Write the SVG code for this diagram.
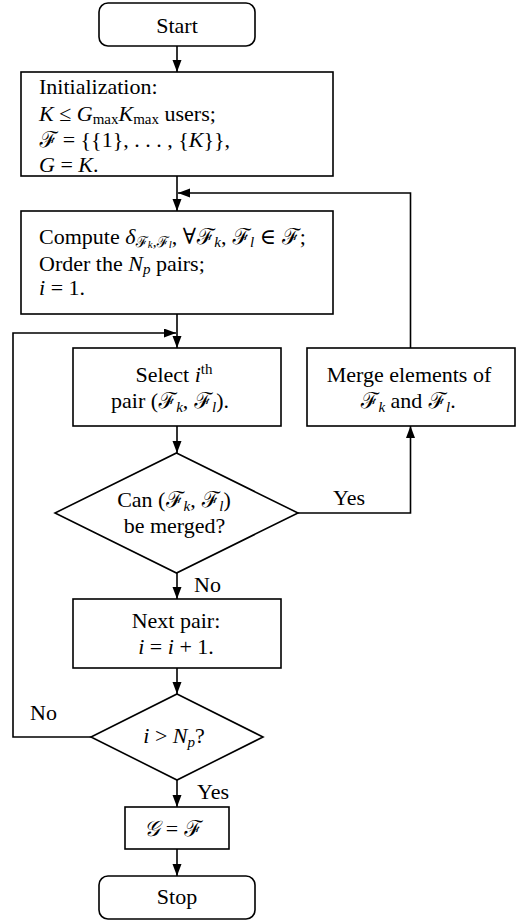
<svg xmlns="http://www.w3.org/2000/svg" width="521" height="921" viewBox="0 0 521 921">
<style>
  .box { fill: #fff; stroke: #000; stroke-width: 1.6; }
  .edge { fill: none; stroke: #000; stroke-width: 1.6; }
  text { font-family: "Liberation Serif", "DejaVu Serif", serif; font-size: 22px; fill: #000; }
  .c { text-anchor: middle; }
  .it { font-style: italic; }
  .sub { font-size: 15px; }
  .sub2 { font-size: 11px; font-style: italic; }
  .scr { font-family: "DejaVu Serif", "Noto Sans", serif; font-style: italic; }
</style>
<defs>
  <marker id="arr" markerUnits="userSpaceOnUse" markerWidth="12" markerHeight="10" refX="12" refY="4.5" orient="auto">
    <path d="M0,0 L12,4.5 L0,9 z" fill="#000"/>
  </marker>
</defs>

<g id="connectors">
  <path class="edge" d="M177,46 V72" marker-end="url(#arr)"/>
  <path class="edge" d="M177,176 V211" marker-end="url(#arr)"/>
  <path class="edge" d="M410.5,348 V193 H178" marker-end="url(#arr)"/>
  <path class="edge" d="M177,314 V348" marker-end="url(#arr)"/>
  <path class="edge" d="M91,737 H13 V333 H176" marker-end="url(#arr)"/>
  <path class="edge" d="M177,426 V453" marker-end="url(#arr)"/>
  <path class="edge" d="M298,513 H410.5 V426" marker-end="url(#arr)"/>
  <path class="edge" d="M177,573 V599" marker-end="url(#arr)"/>
  <path class="edge" d="M177,668 V694" marker-end="url(#arr)"/>
  <path class="edge" d="M177,780 V807" marker-end="url(#arr)"/>
  <path class="edge" d="M177,849 V876" marker-end="url(#arr)"/>
  <text x="333" y="505">Yes</text>
  <text x="194" y="592">No</text>
  <text x="30" y="720">No</text>
  <text x="197" y="799">Yes</text>
</g>

<g id="start">
  <rect class="box" x="99" y="3" width="156" height="43" rx="9"/>
  <text class="c" x="177" y="33">Start</text>
</g>

<g id="init">
  <rect class="box" x="21" y="72" width="312" height="104"/>
  <text x="39" y="94">Initialization:</text>
  <text x="39" y="121"><tspan class="it">K</tspan> ≤ <tspan class="it">G</tspan><tspan class="sub" dy="3">max</tspan><tspan class="it" dy="-3">K</tspan><tspan class="sub" dy="3">max</tspan><tspan dy="-3"> users;</tspan></text>
  <text x="39" y="147"><tspan class="scr">ℱ</tspan> = {{1}, . . . , {<tspan class="it">K</tspan>}},</text>
  <text x="39" y="172"><tspan class="it">G</tspan> = <tspan class="it">K</tspan>.</text>
</g>

<g id="compute">
  <rect class="box" x="21" y="211" width="312" height="103"/>
  <text x="39" y="244">Compute <tspan class="it">δ</tspan><tspan class="sub scr" dy="3">ℱ</tspan><tspan class="sub2" dy="1">k</tspan><tspan class="sub" dy="-1">,</tspan><tspan class="sub scr">ℱ</tspan><tspan class="sub2" dy="1">l</tspan><tspan dy="-4">, ∀</tspan><tspan class="scr">ℱ</tspan><tspan class="sub it" dy="3">k</tspan><tspan dy="-3">, </tspan><tspan class="scr">ℱ</tspan><tspan class="sub it" dy="3">l</tspan><tspan dy="-3"> ∈ </tspan><tspan class="scr">ℱ</tspan>;</text>
  <text x="39" y="271">Order the <tspan class="it">N</tspan><tspan class="sub it" dy="3">p</tspan><tspan dy="-3"> pairs;</tspan></text>
  <text x="39" y="295"><tspan class="it">i</tspan> = 1.</text>
</g>

<g id="select">
  <rect class="box" x="73" y="348" width="208" height="78"/>
  <text class="c" x="174" y="382">Select <tspan class="it">i</tspan><tspan class="sub" dy="-8">th</tspan></text>
  <text class="c" x="170" y="408">pair (<tspan class="scr">ℱ</tspan><tspan class="sub it" dy="4">k</tspan><tspan dy="-4">, </tspan><tspan class="scr">ℱ</tspan><tspan class="sub it" dy="4">l</tspan><tspan dy="-4">).</tspan></text>
</g>

<g id="merge">
  <rect class="box" x="307" y="348" width="208" height="78"/>
  <text class="c" x="409" y="382">Merge elements of</text>
  <text class="c" x="408" y="408"><tspan class="scr">ℱ</tspan><tspan class="sub it" dy="4">k</tspan><tspan dy="-4"> and </tspan><tspan class="scr">ℱ</tspan><tspan class="sub it" dy="4">l</tspan><tspan dy="-4">.</tspan></text>
</g>

<g id="canmerge">
  <polygon class="box" points="176.5,453 298,513 176.5,573 55,513"/>
  <text class="c" x="174" y="507">Can (<tspan class="scr">ℱ</tspan><tspan class="sub it" dy="4">k</tspan><tspan dy="-4">, </tspan><tspan class="scr">ℱ</tspan><tspan class="sub it" dy="4">l</tspan><tspan dy="-4">)</tspan></text>
  <text class="c" x="174.5" y="533">be merged?</text>
</g>

<g id="next">
  <rect class="box" x="73" y="599" width="208" height="69"/>
  <text class="c" x="176" y="628">Next pair:</text>
  <text class="c" x="176" y="654"><tspan class="it">i</tspan> = <tspan class="it">i</tspan> + 1.</text>
</g>

<g id="check">
  <polygon class="box" points="177,694 263,737 177,780 91,737"/>
  <text class="c" x="174" y="743"><tspan class="it">i</tspan> &gt; <tspan class="it">N</tspan><tspan class="sub it" dy="4">p</tspan><tspan dy="-4">?</tspan></text>
</g>

<g id="assign">
  <rect class="box" x="125" y="807" width="104" height="42"/>
  <text class="c" x="173" y="836"><tspan class="scr">𝒢</tspan> = <tspan class="scr">ℱ</tspan></text>
</g>

<g id="stop">
  <rect class="box" x="99" y="876" width="156" height="43" rx="9"/>
  <text class="c" x="177" y="904">Stop</text>
</g>
</svg>
